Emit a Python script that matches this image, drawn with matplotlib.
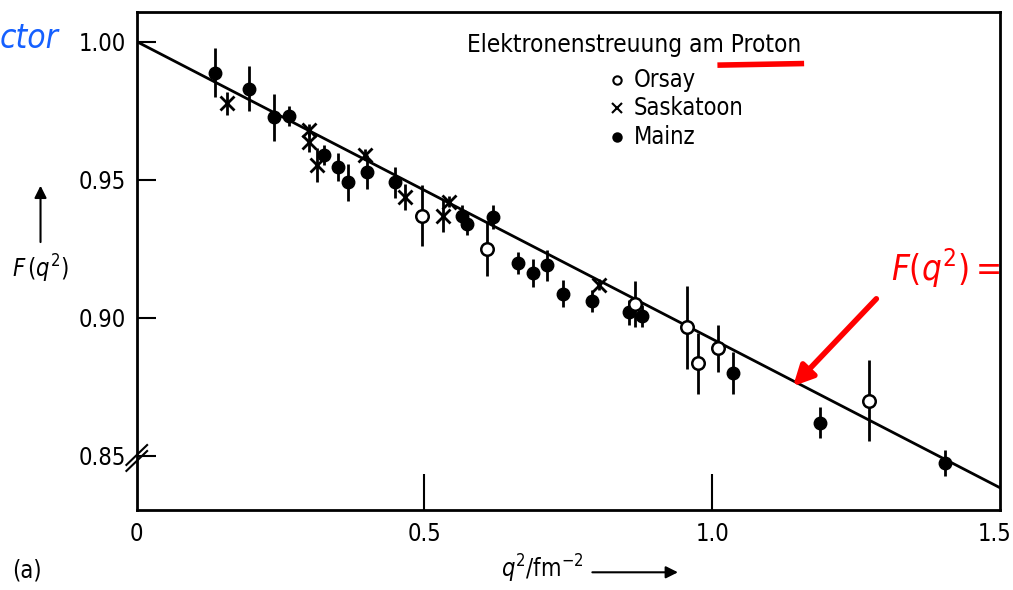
import matplotlib.pyplot as plt

# Form factor of the proton from electron scattering
orsay_q = [0.496, 0.609, 0.866, 0.957, 0.976, 1.010, 1.273]
orsay_F = [0.937, 0.925, 0.905, 0.8965, 0.8835, 0.889, 0.870]
orsay_err = [0.011, 0.010, 0.0085, 0.015, 0.011, 0.0085, 0.0146]

sask_q = [0.157, 0.300, 0.300, 0.313, 0.397, 0.466, 0.532, 0.543, 0.803]
sask_F = [0.9776, 0.968, 0.9636, 0.9553, 0.959, 0.9437, 0.937, 0.942, 0.912]
sask_err = [0.004, 0.002, 0.0036, 0.0063, 0.002, 0.0047, 0.0058, 0.002, 0.002]

mainz_q = [0.136, 0.195, 0.238, 0.264, 0.325, 0.350, 0.367, 0.400, 0.449,
           0.565, 0.574, 0.619, 0.663, 0.689, 0.713, 0.741, 0.791, 0.856,
           0.878, 1.037, 1.188, 1.405]
mainz_F = [0.9888, 0.983, 0.9726, 0.973, 0.959, 0.9546, 0.949, 0.9528, 0.949,
           0.937, 0.934, 0.9365, 0.920, 0.9163, 0.919, 0.9088, 0.906, 0.902,
           0.9005, 0.880, 0.862, 0.8475]
mainz_err = [0.009, 0.008, 0.0085, 0.0036, 0.0036, 0.005, 0.0067, 0.006, 0.0057,
             0.004, 0.004, 0.0045, 0.004, 0.005, 0.0056, 0.005, 0.004, 0.0045,
             0.004, 0.0077, 0.0056, 0.0047]

# F = 1 - q^2 <r^2> / 6
fit_q = [0.0, 1.5]
fit_F = [1.0, 1.0 - 0.646 / 6 * 1.5]

yticks = [0.85, 0.90, 0.95, 1.00]
xticks = [0, 0.5, 1.0, 1.5]

plt.rcParams['font.family'] = 'DejaVu Sans'
plt.rcParams['font.stretch'] = 'condensed'

fig = plt.figure(figsize=(10.13, 5.9), dpi=100)
ax = fig.add_axes([0.135, 0.136, 0.852, 0.844])

ax.plot(fit_q, fit_F, color='black', lw=2, zorder=2)

eb = dict(ls='none', ecolor='black', elinewidth=2, capsize=0, zorder=3)
ax.errorbar(mainz_q, mainz_F, yerr=mainz_err, fmt='o', ms=9,
            mfc='black', mec='black', **eb)
ax.errorbar(orsay_q, orsay_F, yerr=orsay_err, fmt='o', ms=9,
            mfc='white', mec='black', mew=1.8, **eb)
ax.errorbar(sask_q, sask_F, yerr=sask_err, fmt='x', ms=10,
            mec='black', mew=2, **eb)

ax.set_xlim(0, 1.5)
ax.set_ylim(0.8305, 1.0108)
ax.set_xticks([0.5, 1.0])
ax.set_xticklabels([])
ax.set_yticks(yticks)
ax.set_yticklabels(['0.85', '0.90', '0.95', '1.00'], fontsize=17)
ax.tick_params(axis='y', direction='in', length=14, width=1.5, pad=8)
ax.tick_params(axis='x', direction='in', length=26, width=1.5)
for s in ax.spines.values():
    s.set_linewidth(2)

for q in xticks:
    ax.text(q - (0.01 if q == 1.5 else 0), -0.025, '0' if q == 0 else f'{q:.1f}',
            transform=ax.get_xaxis_transform(), ha='center', va='top', fontsize=17)

# axis break
for dy in (0.0, 0.012):
    ax.plot([-0.012, 0.012], [0.078 + dy, 0.118 + dy], transform=ax.transAxes,
            color='black', lw=1.5, clip_on=False)

ax.text(0.383, 0.934, 'Elektronenstreuung am Proton', transform=ax.transAxes,
        fontsize=17.5, va='center')
legend_rows = [('o', 'white', 'Orsay'), ('x', 'black', 'Saskatoon'), ('o', 'black', 'Mainz')]
for i, (m, fc, name) in enumerate(legend_rows):
    yy = 0.863 - i * 0.057
    ax.plot([0.557], [yy], m, transform=ax.transAxes, ms=6 if m == 'o' else 7,
            mfc=fc, mec='black', mew=1.5)
    ax.text(0.576, yy, name, transform=ax.transAxes, fontsize=17, va='center')


def fig_arrow(start, end, color, lw, head):
    ax.annotate('', xy=end, xytext=start, xycoords='figure fraction',
                textcoords='figure fraction', annotation_clip=False,
                arrowprops=dict(arrowstyle='-|>', color=color, lw=lw, mutation_scale=head))


# axis labels with arrows
fig.text(0.040, 0.545, r'$F\,(q^2)$', fontsize=17, ha='center', va='center')
fig_arrow((0.040, 0.585), (0.040, 0.69), 'black', 1.5, 18)
fig.text(0.535, 0.008, r'$q^2/\mathrm{fm}^{-2}$', fontsize=17, ha='center', va='bottom')
fig_arrow((0.582, 0.03), (0.672, 0.03), 'black', 1.5, 18)
fig.text(0.012, 0.012, '(a)', fontsize=17, va='bottom')

# handwritten notes
fig.text(0.0, 0.935, 'ctor', color='#1560ff', fontsize=24, style='italic', va='center')
ax.plot([0.676, 0.77], [0.893, 0.896], transform=ax.transAxes, color='red', lw=4)
fig.text(0.880, 0.545, r'$F(q^2)=$', color='red', fontsize=25, va='center')
fig_arrow((0.867, 0.497), (0.781, 0.342), 'red', 4, 30)

fig.savefig('out.png', dpi=100)
